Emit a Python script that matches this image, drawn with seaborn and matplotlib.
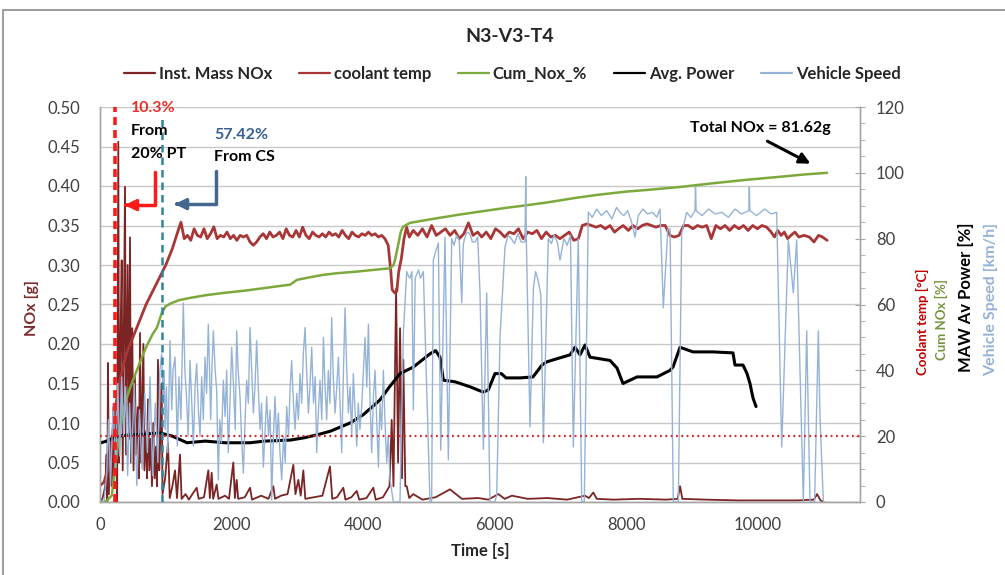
import numpy as np
import pandas as pd
import seaborn as sns
from matplotlib import pyplot as plt
from matplotlib.lines import Line2D
from matplotlib.patches import Rectangle
from matplotlib.ticker import MultipleLocator, FormatStrFormatter

# ---- data ----
nox_t = [0, 40, 80, 100, 110, 122, 135, 160, 180, 200, 215, 245, 260, 278, 290, 310, 330, 345, 365, 380,
         395, 420, 440, 456, 470, 490, 510, 530, 550, 575, 590, 608, 625, 659, 675, 700, 715, 730, 750, 770,
         790, 810, 830, 850, 865, 881, 900, 920, 937, 950, 990, 1033, 1060, 1100, 1140, 1170, 1216, 1240, 1300, 1350,
         1420, 1469, 1500, 1580, 1646, 1670, 1697, 1720, 1773, 1800, 1900, 1960, 2026, 2050, 2077, 2100, 2200, 2280, 2310, 2450,
         2560, 2634, 2660, 2750, 2850, 2938, 2970, 3014, 3050, 3090, 3120, 3250, 3380, 3495, 3530, 3600, 3698, 3730, 3820, 3901,
         3940, 4050, 4154, 4190, 4300, 4400, 4433, 4460, 4500, 4530, 4560, 4590, 4610, 4640, 4661, 4700, 4760, 4900, 5100, 5319,
         5500, 5750, 5900, 6055, 6150, 6260, 6500, 6800, 7100, 7371, 7430, 7497, 7550, 7800, 8200, 8600, 8780, 8815, 8850, 9200,
         9700, 10200, 10600, 10850, 10897, 10950, 11000]
nox_g = [0.0, 0.005, 0.02, 0.06, 0.0, 0.176, 0.01, 0.08, 0.02, 0.12, 0.03, 0.10, 0.0, 0.456, 0.05, 0.20, 0.306, 0.04, 0.25, 0.399,
         0.06, 0.30, 0.08, 0.335, 0.05, 0.22, 0.04, 0.16, 0.06, 0.12, 0.03, 0.214, 0.05, 0.20, 0.04, 0.09, 0.03, 0.13, 0.04, 0.08,
         0.02, 0.10, 0.03, 0.07, 0.02, 0.18, 0.04, 0.09, 0.15, 0.01, 0.03, 0.075, 0.005, 0.02, 0.04, 0.005, 0.06, 0.004, 0.01, 0.003,
         0.012, 0.018, 0.004, 0.006, 0.04, 0.005, 0.037, 0.004, 0.022, 0.004, 0.008, 0.004, 0.05, 0.005, 0.028, 0.004, 0.006, 0.018, 0.003, 0.008,
         0.004, 0.02, 0.004, 0.008, 0.01, 0.047, 0.01, 0.028, 0.008, 0.04, 0.004, 0.006, 0.008, 0.045, 0.004, 0.006, 0.018, 0.003, 0.006, 0.014,
         0.003, 0.005, 0.018, 0.003, 0.006, 0.02, 0.104, 0.02, 0.27, 0.05, 0.22, 0.03, 0.18, 0.02, 0.02, 0.005, 0.01, 0.003, 0.006, 0.016,
         0.004, 0.005, 0.003, 0.01, 0.004, 0.008, 0.004, 0.005, 0.003, 0.008, 0.005, 0.012, 0.004, 0.003, 0.004, 0.003, 0.004, 0.02, 0.004, 0.003,
         0.002, 0.002, 0.002, 0.003, 0.01, 0.002, 0.0]

coolant_t = [0, 60, 120, 180, 228, 300, 400, 500, 600, 700, 800, 900, 1000, 1100, 1180, 1230, 1280, 1330, 1380, 1430,
             1480, 1530, 1580, 1630, 1680, 1730, 1780, 1830, 1880, 1930, 1980, 2030, 2080, 2130, 2180, 2230, 2280, 2330, 2380, 2430,
             2480, 2530, 2580, 2630, 2680, 2730, 2780, 2830, 2880, 2930, 2980, 3030, 3080, 3130, 3180, 3230, 3280, 3330, 3380, 3430,
             3480, 3530, 3580, 3630, 3680, 3730, 3780, 3830, 3880, 3930, 3980, 4030, 4080, 4130, 4180, 4230, 4280, 4330, 4380, 4420,
             4440, 4480, 4510, 4540, 4580, 4620, 4660, 4700, 4760, 4830, 4900, 4970, 5040, 5110, 5180, 5250, 5320, 5390, 5460, 5530,
             5600, 5670, 5740, 5800, 5870, 5940, 6010, 6080, 6150, 6220, 6290, 6360, 6430, 6500, 6570, 6640, 6710, 6780, 6850, 6920,
             6990, 7060, 7130, 7200, 7270, 7330, 7400, 7470, 7540, 7610, 7680, 7750, 7820, 7880, 7950, 8030, 8100, 8170, 8240, 8310,
             8380, 8450, 8520, 8590, 8660, 8730, 8800, 8870, 8940, 9010, 9080, 9150, 9220, 9290, 9360, 9430, 9500, 9570, 9640, 9710,
             9780, 9850, 9920, 9990, 10060, 10130, 10200, 10250, 10300, 10350, 10400, 10450, 10500, 10560, 10620, 10700, 10780, 10850, 10920, 10980,
             11050]
coolant_c = [5, 6, 10, 18, 28, 37, 45, 50, 55, 60, 64, 68, 72, 77, 82, 85, 80, 81, 79.5, 83,
             81, 80.5, 83, 80, 81.5, 83.6, 80, 81, 80.5, 82, 80, 81, 79.5, 81, 80.5, 81, 79, 78, 79, 80.5,
             81.5, 80, 82, 80.5, 81, 82, 80, 83, 81, 80.5, 82.5, 80.5, 83.5, 81, 80, 82, 81, 80.5, 81.5, 80.5,
             82, 81, 81.5, 80.5, 82.5, 81, 80, 82, 81, 80.5, 81.5, 81, 82, 81, 81.5, 80.5, 81, 80, 78, 70,
             64.5, 63.5, 64, 70, 74, 80, 83.5, 80.5, 82.5, 81, 83, 80.5, 84, 81, 82, 83, 81, 82.5, 80, 81.5,
             84.8, 81, 82, 80.5, 82, 80, 83, 82, 80.5, 82, 81.5, 83, 80, 82, 81.5, 82.5, 80, 82, 80.5, 81,
             80, 81, 82, 79.5, 80, 84, 84.5, 84, 83.5, 84, 83, 84, 82, 83, 84, 82.5, 84, 83, 84, 84.5,
             84, 83.5, 84, 84, 81, 80.5, 81, 84, 84, 83, 84, 83.5, 84, 80, 84, 83, 84, 82.5, 84, 83,
             84, 82.5, 84, 83, 84, 83.5, 82, 80.5, 82.5, 81, 82, 80, 81, 82, 80.5, 81, 80.5, 79, 81, 80.5,
             79.5]

cum_t = [0, 100, 180, 228, 300, 380, 456, 530, 608, 700, 800, 866, 938, 1000, 1094, 1200, 1368, 1600, 1869, 2200,
         2500, 2800, 2888, 2994, 3200, 3389, 3600, 3906, 4150, 4407, 4460, 4483, 4530, 4570, 4605, 4711, 5000, 5426, 5800, 6185,
         6500, 6793, 7200, 7553, 8000, 8313, 8815, 9300, 9833, 10334, 10700, 11049]
cum_pct = [0, 0.3, 2, 10.3, 22, 30, 34.6, 38.5, 42.5, 47, 51, 53, 57.4, 59.5, 60.5, 61.3, 62, 62.8, 63.5, 64.2,
           65, 65.8, 66, 67.5, 68.3, 69, 69.5, 70, 70.5, 71, 72, 73.5, 78, 82, 83.6, 84.8, 85.8, 87.2, 88.3, 89.4,
           90.2, 91, 92.3, 93.3, 94.3, 94.8, 95.7, 96.8, 97.9, 98.8, 99.5, 100]

power_t = [0, 100, 228, 400, 600, 800, 912, 1100, 1322, 1600, 1900, 2280, 2500, 2888, 3100, 3298, 3500, 3800, 4000, 4255,
           4400, 4560, 4762, 5015, 5100, 5167, 5218, 5400, 5623, 5821, 5900, 6003, 6100, 6170, 6383, 6580, 6717, 6793, 6991, 7143,
           7219, 7295, 7371, 7447, 7751, 7857, 7948, 8161, 8465, 8663, 8708, 8815, 9012, 9316, 9620, 9650, 9772, 9833, 9878, 9924,
           9970]
power_pct = [17.9, 18.5, 19.8, 20.3, 20.5, 20.8, 21, 20, 18, 18.5, 18, 18, 18.5, 18.8, 19.5, 20.4, 21.5, 24, 26.5, 31,
             35, 39, 41, 45, 46, 44, 37, 36.5, 35, 33.4, 34, 39, 39, 37.7, 37.7, 38, 41.6, 42.6, 43.8, 44.7,
             47, 44.7, 47.7, 44, 43, 40.7, 36, 38, 38, 40, 41, 47, 45.6, 45.6, 45.3, 41.6, 41.6, 39, 36, 31.6,
             29]

speed_t = [0, 60, 100, 130, 160, 200, 240, 270, 300, 330, 360, 390, 420, 450, 480, 520, 560, 600, 640, 680,
           720, 760, 800, 840, 880, 910, 937, 960, 975, 988, 1010, 1030, 1064, 1090, 1110, 1140, 1160, 1175, 1200, 1230,
           1266, 1290, 1317, 1340, 1368, 1395, 1419, 1445, 1469, 1495, 1520, 1545, 1570, 1596, 1620, 1646, 1665, 1682, 1700, 1723,
           1750, 1773, 1798, 1820, 1845, 1874, 1900, 1925, 1950, 1975, 2001, 2030, 2055, 2077, 2100, 2128, 2150, 2179, 2205, 2229,
           2255, 2280, 2305, 2331, 2355, 2381, 2405, 2432, 2455, 2483, 2510, 2533, 2560, 2585, 2609, 2635, 2660, 2685, 2711, 2735,
           2761, 2790, 2815, 2837, 2865, 2890, 2913, 2940, 2964, 2990, 3015, 3040, 3065, 3090, 3116, 3140, 3167, 3190, 3217, 3245,
           3270, 3293, 3320, 3344, 3370, 3395, 3420, 3445, 3470, 3495, 3521, 3545, 3572, 3598, 3623, 3648, 3673, 3700, 3724, 3750,
           3775, 3800, 3825, 3850, 3875, 3901, 3925, 3950, 3977, 4003, 4028, 4055, 4079, 4105, 4129, 4155, 4180, 4205, 4231, 4255,
           4280, 4307, 4330, 4357, 4380, 4408, 4458, 4509, 4559, 4610, 4661, 4690, 4712, 4740, 4762, 4790, 4810, 4840, 4870, 4914,
           4965, 5015, 5040, 5066, 5100, 5142, 5178, 5243, 5294, 5345, 5380, 5420, 5460, 5497, 5520, 5540, 5580, 5620, 5660, 5700,
           5740, 5775, 5826, 5877, 5927, 6000, 6029, 6079, 6155, 6200, 6250, 6300, 6350, 6400, 6459, 6470, 6480, 6535, 6586, 6620,
           6650, 6700, 6738, 6813, 6860, 6900, 6950, 6991, 7050, 7100, 7150, 7193, 7269, 7321, 7360, 7421, 7480, 7550, 7620, 7700,
           7780, 7850, 7903, 7960, 8020, 8080, 8131, 8180, 8250, 8320, 8400, 8460, 8511, 8561, 8630, 8663, 8713, 8789, 8840, 8916,
           8980, 9043, 9050, 9060, 9150, 9250, 9350, 9450, 9550, 9650, 9750, 9860, 9868, 9876, 9980, 10100, 10200, 10284, 10360, 10461,
           10537, 10588, 10664, 10689, 10740, 10790, 10860, 10917, 10942, 10993]
speed_kmh = [0, 0, 8, 25, 5, 30, 10, 36, 14, 38, 20, 35, 8, 30, 12, 36, 5, 28, 10, 33,
             15, 38, 8, 30, 12, 40, 45, 30, 40, 22, 35, 15, 49, 28, 40, 44, 30, 17, 38, 25,
             60.5, 40, 31, 20, 43, 30, 17, 35, 42, 28, 20, 38, 25, 44, 33, 54, 40, 25, 40, 52,
             40, 34, 6.7, 25, 18, 37, 26, 40, 15, 30, 47, 35, 22, 52, 40, 32, 20, 8.8, 25, 37,
             30, 53, 40, 27, 35, 49, 35, 22, 30, 10.6, 22, 32, 20, 28, 0.6, 20, 32, 18, 27, 15,
             6.7, 20, 12, 29, 20, 35, 43, 30, 22, 33, 25, 39, 30, 45, 53, 40, 27, 35, 47, 30,
             38, 15, 28, 37, 25, 50, 35, 25, 40, 30, 56, 38, 27, 35, 44, 30, 15, 40, 59, 40,
             27, 35, 20, 39, 28, 17, 30, 22, 29, 40, 50, 35, 54, 30, 15, 32, 40, 25, 10.6, 30,
             22, 40, 25, 12, 20, 6.7, 0, 0, 0, 51, 70, 68.5, 68, 70, 28, 68, 69, 70.5, 68, 70,
             35, 0, 0, 73.5, 76, 78.7, 15.8, 80.5, 12.8, 80, 78, 81, 79.5, 60.5, 78, 80, 82, 81.5, 79, 79,
             80.5, 63.5, 16, 63.5, 0, 0, 2, 50, 77.5, 81, 80, 78.5, 81.5, 79, 79, 98.8, 79, 22.8, 65, 70,
             68, 63, 18, 80, 78.5, 81, 79, 73.5, 80, 78, 81, 16.7, 80, 0, 0, 88, 86.5, 89, 87, 88.5,
             86, 89.5, 88, 87, 88.5, 85, 80.5, 87, 89, 87.5, 88, 86.5, 89, 59, 83, 83, 0, 0, 81.7, 88,
             86.5, 88.5, 95.7, 88.5, 87, 89, 87.5, 88, 86.5, 89, 87.5, 88.5, 95.7, 88.5, 87, 89, 87.5, 88, 16.7, 79.6,
             63.5, 79.6, 20, 0, 52, 0, 0, 52, 26, 0]

series = ['Inst. Mass NOx', 'coolant temp', 'Cum_Nox_%', 'Avg. Power', 'Vehicle Speed']
colors = ['#7B2424', '#A93636', '#7DA83C', '#000000', '#95B3D7']

sns.set_style('white')
plt.rcParams['font.family'] = ['Lato', 'DejaVu Sans']

fig = plt.figure(figsize=(10.05, 5.75), dpi=100)
ax = fig.add_axes([100 / 1005, 1 - 502 / 575, 760 / 1005, 395 / 575])
ax2 = ax.twinx()

sns.lineplot(data=pd.DataFrame({'t': nox_t, 'v': nox_g}), x='t', y='v', ax=ax,
             color=colors[0], lw=1.3, estimator=None, sort=False, legend=False)
sns.lineplot(data=pd.DataFrame({'t': coolant_t, 'v': coolant_c}), x='t', y='v', ax=ax2,
             color=colors[1], lw=2.0, estimator=None, sort=False, legend=False)
sns.lineplot(data=pd.DataFrame({'t': cum_t, 'v': cum_pct}), x='t', y='v', ax=ax2,
             color=colors[2], lw=1.8, estimator=None, sort=False, legend=False)
sns.lineplot(data=pd.DataFrame({'t': power_t, 'v': power_pct}), x='t', y='v', ax=ax2,
             color=colors[3], lw=2.2, estimator=None, sort=False, legend=False)
sns.lineplot(data=pd.DataFrame({'t': speed_t, 'v': speed_kmh}), x='t', y='v', ax=ax2,
             color=colors[4], lw=1.0, estimator=None, sort=False, legend=False)

tick_col = '#404040'
ax.set_xlim(0, 11550)
ax.set_ylim(0, 0.5)
ax.set_xticks(range(0, 10001, 2000))
ax.yaxis.set_major_locator(MultipleLocator(0.05))
ax.yaxis.set_major_formatter(FormatStrFormatter('%.2f'))
ax.grid(axis='y', color='#C8C8C8', lw=1)
ax.grid(axis='x', visible=False)
ax.set_xlabel('')
ax.set_ylabel('')
ax.tick_params(axis='y', length=0, pad=14, labelsize=12, labelcolor=tick_col)
ax.tick_params(axis='x', length=0, pad=11, labelsize=12, labelcolor=tick_col)

ax2.set_ylim(0, 120)
ax2.yaxis.set_major_locator(MultipleLocator(20))
ax2.yaxis.set_minor_locator(MultipleLocator(5))
ax2.set_ylabel('')
ax2.tick_params(axis='y', which='major', direction='inout', length=7, color='#A6A6A6',
                pad=8, labelsize=12, labelcolor=tick_col)
ax2.tick_params(axis='y', which='minor', direction='out', length=3.5, color='#A6A6A6')
ax2.grid(False)

for a in (ax, ax2):
    a.spines['top'].set_visible(False)
    for s in ('left', 'right', 'bottom'):
        a.spines[s].set_color('#A6A6A6')
        a.spines[s].set_linewidth(1)

# reference lines
ax2.axhline(20, color='#E02020', lw=1.6, ls=(0, (0.8, 1.6)), zorder=5)
ax2.plot([228, 228], [0, 120], color='#FF1A1A', lw=2.6, ls=(0, (2.2, 1.4)), zorder=6, clip_on=False)
ax2.plot([938, 938], [0, 116.7], color='#31859C', lw=1.8, ls=(0, (3.0, 2.0)), zorder=6)

# annotations
ax2.text(471, 119.7, '10.3%', color='#E8302A', fontsize=11.5, fontweight='bold', va='center', zorder=7)
ax2.text(471, 112.7, 'From', color='black', fontsize=11.5, fontweight='bold', va='center', zorder=7)
ax2.text(471, 105.7, '20% PT', color='black', fontsize=11.5, fontweight='bold', va='center', zorder=7)
ax2.text(1732, 111.5, '57.42%', color='#376092', fontsize=11.5, fontweight='bold', va='center', zorder=7)
ax2.text(1732, 104.8, 'From CS', color='black', fontsize=11.5, fontweight='bold', va='center', zorder=7)
ax2.text(8966, 113.6, 'Total NOx = 81.62g', color='black', fontsize=11.5, fontweight='bold', va='center', zorder=7)

ax2.plot([836, 836, 420], [100.3, 90.2, 90.2], color='#FF1A1A', lw=2.5, zorder=7)
ax2.annotate('', xy=(334, 90.2), xytext=(440, 90.2),
             arrowprops=dict(arrowstyle='-|>', color='#FF1A1A', lw=2.5, mutation_scale=16), zorder=7)
ax2.plot([1763, 1763, 1200], [100.6, 90.5, 90.5], color='#44678F', lw=2.5, zorder=7)
ax2.annotate('', xy=(1094, 90.5), xytext=(1220, 90.5),
             arrowprops=dict(arrowstyle='-|>', color='#44678F', lw=2.5, mutation_scale=16), zorder=7)
ax2.annotate('', xy=(10835, 102.4), xytext=(10106, 110),
             arrowprops=dict(arrowstyle='-|>', color='black', lw=2.2, mutation_scale=16), zorder=7)

# titles and axis captions
fig.text(510 / 1005, 1 - 36 / 575, 'N3-V3-T4', ha='center', va='center', fontsize=14, fontweight='bold', color='#262626')
fig.text(480 / 1005, 1 - 551 / 575, 'Time [s]', ha='center', va='center', fontsize=12, fontweight='bold', color='#262626')
fig.text(32 / 1005, 1 - 308 / 575, 'NOx [g]', ha='center', va='center', rotation=90, fontsize=11.5,
         fontweight='bold', color='#7B2C2C')
right_labels = [('Coolant temp [°C]', '#C00000', 922, 322, 9.5),
                ('Cum NOx [%]', '#77933C', 941, 319, 9.5),
                ('MAW Av Power [%]', '#000000', 966, 297, 12),
                ('Vehicle Speed [km/h]', '#95B3D7', 991, 299, 11.5)]
for txt, col, px, py, fs in right_labels:
    fig.text(px / 1005, 1 - py / 575, txt, ha='center', va='center', rotation=90,
             fontsize=fs, fontweight='bold', color=col)

handles = [Line2D([], [], color=c, lw=1.6) for c in colors]
fig.legend(handles, series, loc='center', bbox_to_anchor=(512 / 1005, 1 - 74 / 575), ncol=5,
           frameon=False, handlelength=1.9, handletextpad=0.2, columnspacing=1.6,
           prop={'weight': 'bold', 'size': 12})

# chart-area border
fig.patches.append(Rectangle((3 / 1005, -0.1), 1.2, 1 - 10 / 575 + 0.1, transform=fig.transFigure,
                             fill=False, edgecolor='#8C8C8C', lw=1.2))

fig.savefig('out.png', dpi=100)
